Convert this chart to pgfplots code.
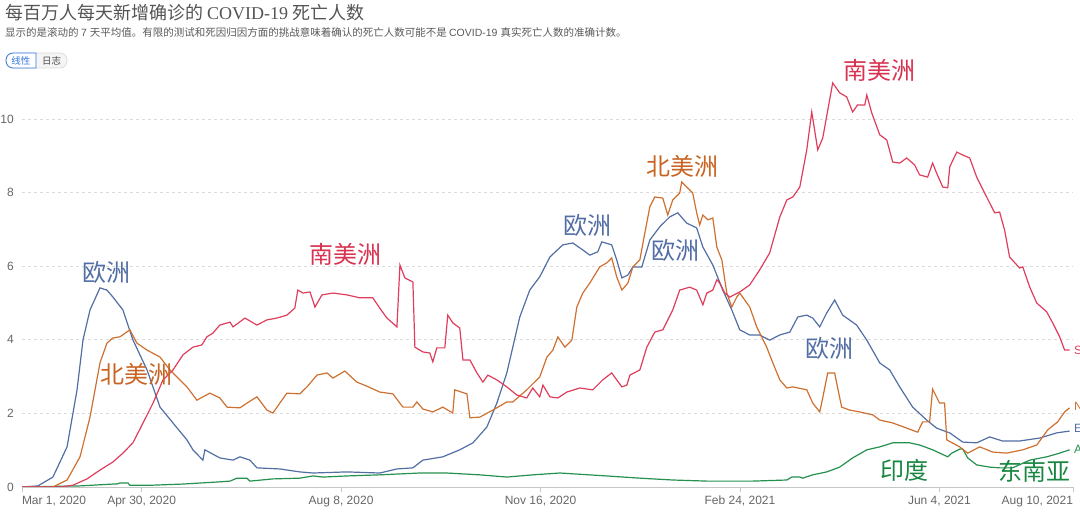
\documentclass[border=0pt]{standalone}
\usepackage{fontspec}
\setmainfont{Liberation Sans}
\newfontfamily\cjk{Noto Sans CJK SC}
\newfontfamily\serifl{Liberation Serif}
\usepackage{pgfplots}
\pgfplotsset{compat=1.18}
\definecolor{eu}{RGB}{82,110,165}
\definecolor{na}{RGB}{206,112,48}
\definecolor{sa}{RGB}{222,62,92}
\definecolor{as}{RGB}{36,145,78}
\definecolor{lblna}{RGB}{200,100,35}
\definecolor{lblsa}{RGB}{215,50,80}
\definecolor{lblas}{RGB}{25,135,65}
\definecolor{ticktext}{RGB}{102,102,102}
\definecolor{btnblue}{RGB}{50,120,220}
\begin{document}
\begin{tikzpicture}
\useasboundingbox (0,0) rectangle (1080pt,514pt);
\begin{axis}[
  at={(22pt,27pt)}, anchor=south west,
  scale only axis, width=1051pt, height=412.2pt,
  xmin=0, xmax=527, ymin=0, ymax=11.2,
  axis x line*=bottom, axis y line*=left,
  y axis line style={draw=none},
  x axis line style={draw=gray!45, line width=0.8pt},
  ytick={0,2,4,6,8,10},
  ytick style={draw=none},
  xtick={0,60,160,260,360,460,527},
  xticklabels={{\makebox[0pt][l]{Mar 1, 2020}},{Apr 30, 2020},{Aug 8, 2020},{Nov 16, 2020},{Feb 24, 2021},{Jun 4, 2021},{\makebox[0pt][r]{Aug 10, 2021}}},
  xtick style={draw=gray!45, line width=0.8pt},
  major tick length=5pt, tick align=outside,
  ymajorgrids=true,
  grid style={dash pattern=on 3pt off 3pt, gray!28, line width=0.7pt},
  tick label style={font=\fontsize{12}{14}\selectfont, color=ticktext},
  xticklabel style={anchor=north, inner sep=0pt, yshift=-4pt},
  yticklabel style={anchor=east, inner sep=0pt, xshift=-3pt},
  /pgf/number format/assume math mode=true,
]
\addplot[as, line width=1.2pt] coordinates {
(0,0) (29.1,0.03) (45.6,0.08) (47.6,0.08) (49.1,0.11) (53.1,0.11) (54.1,0.05) (65.7,0.05) (80.7,0.08) (99.2,0.14) (104.3,0.16) (107.8,0.24) (112.8,0.24) (114.3,0.16) (125.8,0.22) (139.3,0.24) (145.9,0.30) (150.9,0.27) (162.9,0.30) (179.4,0.33) (199.5,0.38) (213.0,0.38) (229.6,0.33) (243.1,0.27) (256.1,0.33) (269.7,0.38) (293.2,0.30) (309.8,0.24) (326.3,0.19) (343.4,0.16) (366.4,0.16) (383.5,0.19) (386.0,0.27) (390.0,0.27) (391.5,0.24) (396.5,0.33) (403.5,0.41) (410.0,0.54) (416.5,0.79) (423.6,1.01) (430.1,1.09) (436.6,1.20) (445.1,1.20) (450.1,1.14) (456.6,1.01) (464.2,0.82) (466.2,0.92) (470.2,1.03) (471.7,1.03) (474.2,0.79) (478.7,0.60) (485.2,0.54) (490.2,0.52) (496.7,0.52) (505.3,0.73) (513.8,0.82) (520.3,0.92) (525.3,1.01)
};
\addplot[eu, line width=1.2pt] coordinates {
(0,0) (8,0.03) (15.5,0.27) (22.6,1.09) (27.6,2.64) (30.6,4.00) (34.1,4.81) (39.1,5.41) (42.6,5.35) (45.6,5.16) (50.6,4.81) (55.6,4.00) (62.7,3.18) (69.2,2.17) (75.7,1.74) (82.7,1.28) (85.7,1.01) (90.7,0.73) (91.7,1.01) (99.2,0.79) (105.8,0.73) (109.3,0.82) (114.3,0.73) (117.8,0.52) (129.3,0.49) (139.3,0.41) (145.9,0.38) (162.9,0.41) (179.4,0.38) (188.0,0.49) (196.0,0.52) (201.0,0.73) (211.0,0.82) (219.5,1.01) (226.1,1.20) (233.1,1.63) (238.1,2.28) (243.1,3.10) (246.1,3.80) (249.6,4.62) (254.6,5.35) (259.6,5.71) (264.7,6.25) (271.2,6.58) (276.2,6.63) (281.2,6.44) (284.7,6.30) (288.7,6.39) (290.7,6.66) (295.7,6.58) (298.2,6.17) (300.8,5.68) (303.8,5.76) (306.3,5.98) (310.8,5.98) (314.8,6.71) (319.8,7.07) (324.8,7.34) (328.8,7.45) (333.3,7.17) (338.3,7.04) (341.4,6.52) (346.4,6.03) (351.4,5.35) (355.9,4.81) (359.9,4.27) (364.9,4.13) (369.9,4.13) (374.9,3.99) (379.9,4.13) (385.0,4.21) (389.0,4.62) (393.5,4.67) (396.5,4.59) (400.0,4.35) (403.5,4.73) (407.5,5.08) (411.5,4.67) (418.5,4.40) (423.6,3.99) (430.1,3.37) (435.1,3.18) (440.1,2.72) (446.6,2.17) (453.6,1.82) (458.6,1.60) (465.2,1.47) (471.7,1.22) (478.7,1.20) (485.2,1.36) (491.7,1.25) (500.2,1.25) (510.3,1.33) (518.8,1.47) (525.3,1.52)
};
\addplot[na, line width=1.2pt] coordinates {
(0,0) (15.5,0) (22.6,0.19) (29.1,0.82) (34.1,1.90) (39.1,3.37) (42.6,3.91) (45.6,4.05) (49.1,4.08) (54.1,4.27) (57.6,3.91) (62.7,3.72) (69.2,3.53) (74.2,3.18) (77.7,2.99) (82.7,2.72) (87.7,2.36) (94.2,2.55) (99.2,2.42) (102.8,2.17) (109.3,2.15) (112.8,2.28) (117.8,2.45) (122.8,2.09) (125.8,2.01) (129.3,2.28) (132.8,2.55) (139.3,2.53) (142.9,2.72) (147.9,3.04) (152.9,3.10) (155.9,2.96) (161.9,3.15) (167.9,2.85) (172.9,2.74) (179.4,2.58) (186.0,2.53) (191.0,2.17) (196.0,2.17) (198.0,2.31) (201.0,2.12) (206.0,2.04) (211.0,2.17) (216.0,2.01) (217.0,2.64) (223.1,2.53) (224.6,1.88) (229.6,1.90) (236.1,2.09) (243.1,2.31) (246.1,2.31) (253.1,2.64) (259.6,2.99) (263.2,3.53) (266.2,3.72) (268.7,4.08) (272.2,3.80) (275.7,3.99) (278.2,4.89) (281.2,5.27) (284.7,5.54) (289.7,5.98) (293.2,6.09) (295.7,6.22) (298.2,5.71) (300.8,5.35) (303.8,5.54) (306.3,5.98) (309.8,6.17) (312.3,6.90) (314.8,7.61) (317.3,7.88) (321.3,7.85) (323.8,7.39) (326.3,7.80) (329.8,7.99) (330.8,8.29) (333.3,8.15) (336.3,7.99) (338.3,7.45) (339.8,7.12) (341.4,7.39) (343.9,7.26) (346.4,7.31) (348.4,6.52) (350.9,6.17) (353.4,5.27) (355.9,4.89) (358.4,5.16) (359.9,5.27) (364.9,4.89) (368.4,4.35) (373.4,3.80) (376.5,3.37) (380.0,2.91) (383.5,2.69) (386.5,2.72) (393.5,2.64) (396.5,2.28) (400.0,2.04) (401.5,2.42) (404.0,3.10) (407.5,3.10) (409.0,2.69) (411.0,2.17) (415.0,2.09) (420.0,2.04) (426.6,1.96) (430.1,1.82) (436.6,1.74) (443.6,1.60) (449.1,1.49) (451.6,1.77) (455.1,1.77) (456.6,2.66) (460.1,2.28) (462.6,2.28) (463.7,1.28) (470.2,1.09) (474.2,0.92) (480.2,1.09) (486.7,0.95) (493.7,0.92) (501.8,1.01) (508.8,1.14) (514.3,1.55) (519.3,1.77) (522.8,2.04) (525.3,2.15)
};
\addplot[sa, line width=1.2pt] coordinates {
(0,0) (19.0,0) (25.6,0.05) (32.6,0.22) (39.1,0.46) (45.6,0.68) (50.6,0.92) (55.6,1.20) (60.7,1.74) (65.7,2.28) (70.7,2.91) (75.7,3.18) (80.7,3.59) (85.7,3.80) (90.2,3.86) (92.7,4.08) (95.7,4.18) (99.2,4.40) (104.3,4.48) (105.8,4.35) (111.8,4.59) (117.8,4.40) (122.8,4.54) (127.8,4.59) (132.8,4.67) (136.8,4.86) (138.3,5.35) (140.9,5.27) (144.4,5.30) (146.9,4.89) (150.4,5.22) (155.9,5.27) (162.9,5.22) (169.4,5.14) (175.9,5.14) (179.4,4.86) (183.0,4.59) (188.0,4.35) (189.5,6.03) (192.0,5.68) (196.0,5.57) (197.0,3.80) (201.0,3.67) (204.5,3.64) (206.0,3.40) (208.0,3.78) (212.0,3.78) (213.5,4.67) (216.0,4.46) (219.5,4.32) (221.1,3.45) (224.6,3.45) (228.1,3.10) (231.1,2.85) (233.6,3.04) (238.1,2.91) (243.1,2.72) (248.1,2.50) (253.1,2.42) (256.1,2.69) (259.6,2.45) (261.2,2.77) (264.7,2.45) (268.7,2.42) (273.2,2.58) (279.7,2.69) (286.2,2.64) (291.2,2.91) (295.7,3.10) (298.2,2.91) (300.8,2.72) (303.3,2.77) (304.8,3.04) (309.8,3.18) (313.3,3.80) (317.3,4.21) (321.3,4.27) (326.3,4.81) (329.8,5.35) (334.8,5.43) (338.3,5.35) (341.4,4.95) (343.4,5.27) (346.4,5.35) (348.4,5.63) (349.9,5.54) (352.4,5.27) (354.9,5.16) (359.9,5.30) (364.9,5.49) (369.9,5.90) (374.9,6.36) (380.0,7.34) (383.5,7.80) (386.5,7.88) (390.0,8.15) (393.5,9.16) (396.0,10.19) (399.0,9.16) (401.5,9.48) (406.5,10.98) (410.0,10.71) (413.5,10.60) (416.5,10.19) (419.0,10.38) (422.6,10.38) (423.6,10.65) (426.1,10.16) (430.1,9.57) (433.6,9.43) (436.6,8.83) (440.1,8.80) (443.6,8.94) (447.6,8.75) (450.1,8.48) (454.1,8.42) (456.6,8.80) (458.6,8.53) (461.7,8.15) (464.2,8.13) (465.2,8.70) (468.7,9.10) (471.7,9.02) (475.2,8.94) (478.7,8.42) (483.7,7.88) (487.7,7.45) (490.2,7.47) (492.7,6.98) (495.2,6.25) (500.2,5.95) (501.8,5.98) (505.3,5.43) (508.8,5.00) (513.8,4.76) (516.8,4.46) (520.3,4.08) (522.8,3.72) (525.3,3.72)
};
\end{axis}
% title and subtitle
\node[anchor=base west, inner sep=0pt, text=black!67] at (5pt,494.5pt)
  {\fontsize{18}{20}\selectfont\cjk 每百万人每天新增确诊的 \serifl COVID-19 \cjk 死亡人数};
\node[anchor=base west, inner sep=0pt, text=black!65] at (5pt,477pt)
  {\fontsize{10.5}{12}\selectfont\cjk 显示的是滚动的 \rmfamily 7 \cjk 天平均值。有限的测试和死因归因方面的挑战意味着确认的死亡人数可能不是 \rmfamily COVID-19 \cjk 真实死亡人数的准确计数。};
% buttons
\draw[fill=gray!8, draw=gray!30, line width=0.7pt, rounded corners=7pt] (6pt,446pt) rectangle (67pt,461pt);
\draw[fill=white, draw=btnblue, line width=0.8pt] (36pt,446pt) [rounded corners=7pt] -- (6pt,446pt) -- (6pt,461pt) [sharp corners] -- (36pt,461pt) -- cycle;
\node[text=btnblue, inner sep=0pt] at (21pt,453.5pt) {\fontsize{9.5}{11}\selectfont\cjk 线性};
\node[text=black!70, inner sep=0pt] at (51.5pt,453.5pt) {\fontsize{9.5}{11}\selectfont\cjk 日志};
% annotations
\begin{scope}[every node/.style={inner sep=0pt, font=\fontsize{24}{28}\selectfont\cjk}]
\node[text=eu] at (106pt,242pt) {欧洲};
\node[text=lblna] at (136pt,140pt) {北美洲};
\node[text=lblsa] at (345pt,260pt) {南美洲};
\node[text=eu] at (587pt,289pt) {欧洲};
\node[text=lblna] at (682pt,348pt) {北美洲};
\node[text=eu] at (675pt,264pt) {欧洲};
\node[text=lblsa] at (879pt,444pt) {南美洲};
\node[text=eu] at (829pt,166pt) {欧洲};
\node[text=lblas] at (904pt,44pt) {印度};
\node[text=lblas] at (1034pt,43pt) {东南亚};
\end{scope}
% right-edge series labels
\begin{scope}[every node/.style={inner sep=0pt, anchor=west, font=\fontsize{12}{14}\selectfont}]
\node[text=sa] at (1074pt,164pt) {South America};
\node[text=na] at (1074pt,108pt) {North America};
\node[text=eu] at (1074pt,84pt) {Europe};
\node[text=as] at (1074pt,65pt) {Asia};
\end{scope}
\end{tikzpicture}
\end{document}
